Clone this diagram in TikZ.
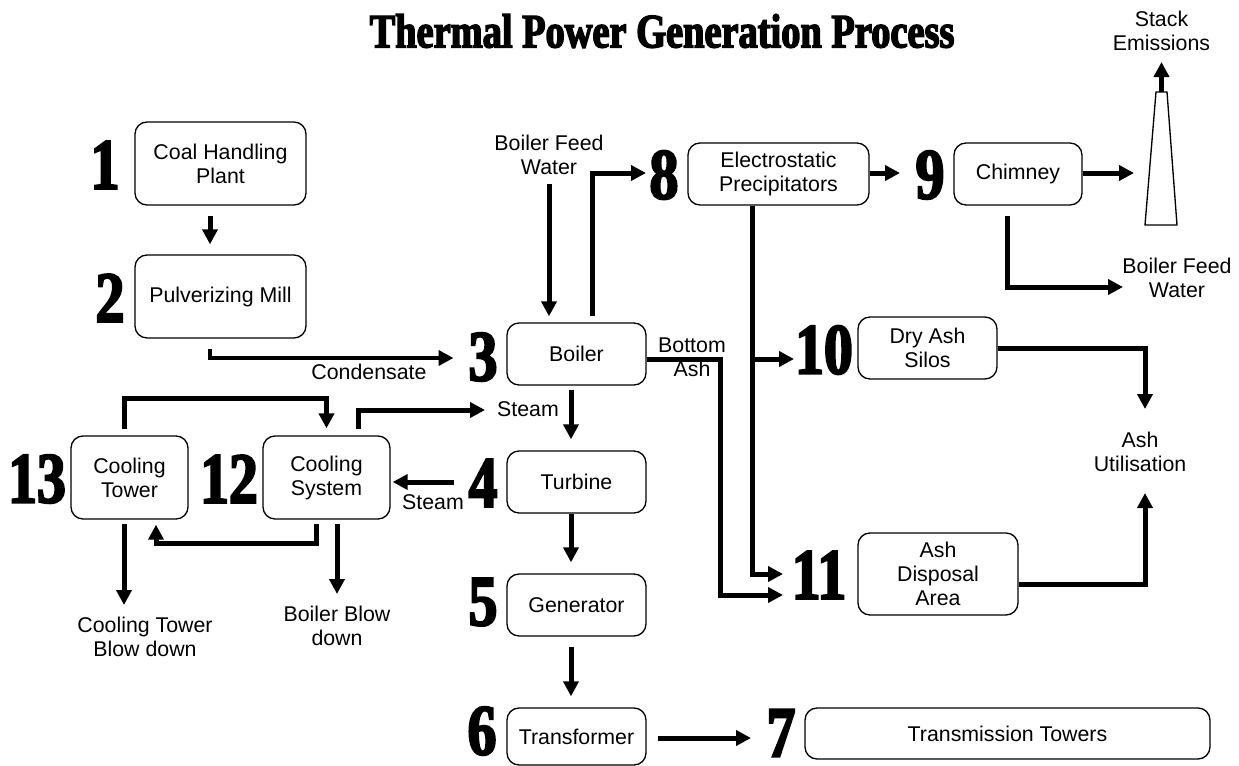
\documentclass[tikz,border=0pt]{standalone}
\usepackage{fontspec}
\usetikzlibrary{arrows.meta}
\setmainfont{Liberation Sans}
\newfontfamily\fatfont[FakeBold=3,FakeStretch=0.8]{Liberation Serif Bold}
\def\px{0.75pt}
\tikzset{
    block/.style = {
        draw, rectangle, rounded corners=9pt, line width=1pt, align=center, inner sep=0pt
    },
    label/.style = {align=center, inner sep=0pt},
    num/.style = {font=\fatfont\fontsize{54}{54}\selectfont, inner sep=0pt},
    flow/.style = {line width=5*\px},
    thinflow/.style = {line width=4*\px},
}
\begin{document}
\begin{tikzpicture}[x=\px, y=-\px, every node/.style={font=\fontsize{16}{18}\selectfont}]
        \useasboundingbox (0,0) rectangle (1239,765);
        % Place the title and the numbers
        \node[label, font=\fatfont\fontsize{36}{36}\selectfont] (title) at (662,31) {Thermal Power Generation Process};
        \foreach \n/\x/\y in {1/105/165, 2/110/298, 3/483/357, 4/483/483, 5/483/602, 6/482/731, 7/781/733, 8/664/175, 9/930/175, 10/824/350, 11/819/575, 12/229/479, 13/37/479}{
            \node[num] (n\n) at (\x,\y) {\n};
        }
        % Place the blocks
        \node[block, minimum width=171*\px, minimum height=83*\px] (coal) at (220.5,163.5) {Coal Handling\\Plant};
        \node[block, minimum width=171*\px, minimum height=83*\px] (mill) at (220.5,296.5) {Pulverizing Mill};
        \node[block, minimum width=139*\px, minimum height=62*\px] (boiler) at (576.5,354) {Boiler};
        \node[block, minimum width=139*\px, minimum height=62*\px] (turbine) at (576.5,482) {Turbine};
        \node[block, minimum width=139*\px, minimum height=62*\px] (generator) at (576.5,605) {Generator};
        \node[block, minimum width=139*\px, minimum height=57*\px] (transformer) at (576.5,736.5) {Transformer};
        \node[block, minimum width=405*\px, minimum height=51*\px] (towers) at (1007.5,733.5) {Transmission Towers};
        \node[block, minimum width=181*\px, minimum height=62*\px] (esp) at (778.5,174) {Electrostatic\\Precipitators};
        \node[block, minimum width=128*\px, minimum height=62*\px] (chimney) at (1018,174) {Chimney};
        \node[block, minimum width=139*\px, minimum height=62*\px] (silos) at (927.5,348) {Dry Ash\\Silos};
        \node[block, minimum width=160*\px, minimum height=82*\px] (disposal) at (938,574) {Ash\\Disposal\\Area};
        \node[block, minimum width=127*\px, minimum height=83*\px] (system) at (326.5,477.5) {Cooling\\System};
        \node[block, minimum width=117*\px, minimum height=83*\px] (tower) at (129.5,477.5) {Cooling\\Tower};
        % Place the free labels
        \node[label] (feedin) at (549,155) {Boiler Feed\\Water};
        \node[label] (stacktext) at (1161.5,31) {Stack\\Emissions};
        \node[label] (feedout) at (1177,278) {Boiler Feed\\Water};
        \node[label] (condensate) at (369,372) {Condensate};
        \node[label] (steamup) at (528,409) {Steam};
        \node[label] (steamleft) at (433,502) {Steam};
        \node[label] (bottomash) at (692,357) {Bottom\\Ash};
        \node[label] (towerdown) at (145,637) {Cooling Tower\\Blow down};
        \node[label] (boilerdown) at (337,626) {Boiler Blow\\down};
        \node[label] (utilisation) at (1140,452) {Ash\\Utilisation};
        % Draw the stack
        \coordinate (stacktop) at (1161.5,92);
        \coordinate (stackin) at (1134,173);
        \coordinate (ashturn) at (720,359);
        \draw[line width=1pt] (1156,92) -- (1167,92) -- (1177,225) -- (1145,225) -- cycle;
        % Draw connections
        \begin{scope}[>={Triangle[width=15*\px,length=15*\px]}]
            \draw[->, flow] ([shift={(-10.5,10)}] coal.south) -- ([shift={(-10.5,-10)}] mill.north);
            \draw[->, thinflow] ([shift={(-10.5,10)}] mill.south) |- ([shift={(-29.5,1)}] n3.center);
            \draw[->, flow] ([shift={(0,29)}] feedin.center) -- ([shift={(-27.5,-6)}] boiler.north);
            \draw[->, flow] ([shift={(15.5,-6)}] boiler.north) |- ([shift={(-18,-2)}] n8.center);
            \draw[->, flow] ([shift={(0,-1)}] esp.east) -- ([shift={(-30,-2)}] n9.center);
            \draw[->, flow] ([shift={(0,-1)}] chimney.east) -- (stackin);
            \draw[->, flow] (stacktop) -- ([shift={(0,31)}] stacktext.center);
            \draw[->, flow] ([shift={(-11,10)}] chimney.south) |- ([shift={(-54,9)}] feedout.center);
            \draw[->, flow] ([shift={(-26.5,0)}] esp.south) |- ([shift={(-30,9)}] n10.center);
            \draw[->, flow] ([shift={(-26.5,0)}] esp.south) |- ([shift={(-36,-1)}] n11.center);
            \draw[->, flow] ([shift={(0,5)}] boiler.east) -- (ashturn) |- ([shift={(-36,20)}] n11.center);
            \draw[->, flow] (silos.east) -| ([shift={(5,-43)}] utilisation.center);
            \draw[->, flow] ([shift={(0,10)}] disposal.east) -| ([shift={(5,41)}] utilisation.center);
            \draw[->, flow] ([shift={(-5.5,4)}] boiler.south) -- ([shift={(-5.5,-11)}] turbine.north);
            \draw[->, flow] ([shift={(-5.5,0)}] turbine.south) -- ([shift={(-5.5,-11)}] generator.north);
            \draw[->, flow] ([shift={(-5.5,10)}] generator.south) -- ([shift={(-5.5,-11)}] transformer.north);
            \draw[->, flow] ([shift={(11,1.5)}] transformer.east) -- ([shift={(-30,5)}] n7.center);
            \draw[->, flow] ([shift={(-5.5,-6)}] tower.north) |- ([shift={(0,-37)}] system.north) -- ([shift={(0,-7)}] system.north);
            \draw[->, flow] ([shift={(31.5,-6)}] system.north) |- ([shift={(-43,1)}] steamup.center);
            \draw[->, flow] ([shift={(-29,-1)}] n4.center) -- ([shift={(2,4.5)}] system.east);
            \draw[->, flow] ([shift={(-10.5,4)}] system.south) |- ([shift={(26.5,24)}] tower.south) -- ([shift={(26.5,5)}] tower.south);
            \draw[->, flow] ([shift={(-5.5,4)}] tower.south) -- ([shift={(-21,-32)}] towerdown.center);
            \draw[->, flow] ([shift={(10.5,4)}] system.south) -- ([shift={(0,-32)}] boilerdown.center);
        \end{scope}
    \end{tikzpicture}
\end{document}
